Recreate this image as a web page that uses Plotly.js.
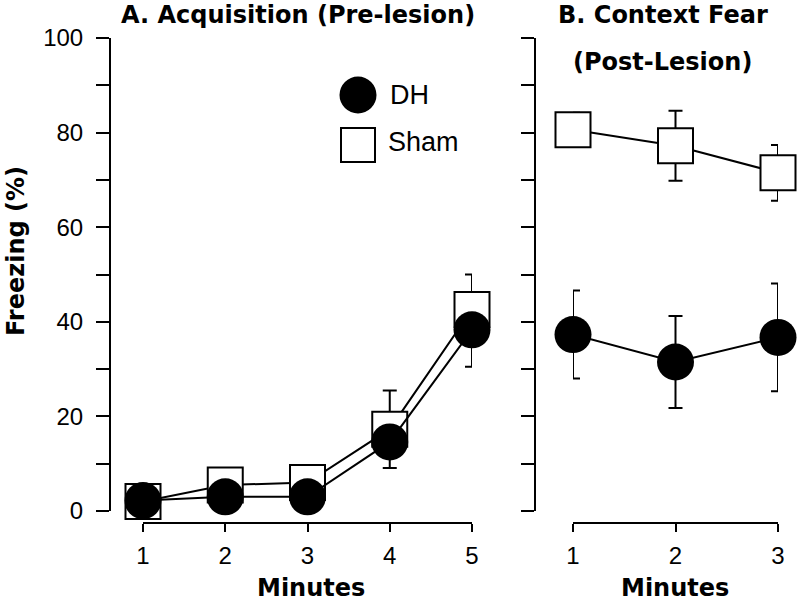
<!DOCTYPE html>
<html>
<head>
<meta charset="utf-8">
<script src="https://cdn.plot.ly/plotly-3.0.1.min.js"></script>
<style>html,body{margin:0;padding:0;background:#fff;}#chart{width:800px;height:601px;}</style>
</head>
<body>
<div id="chart"></div>
<script>
// ---- Data ----
const minutesA = [1, 2, 3, 4, 5];
const dhA = [2.2, 3.0, 3.0, 14.6, 38.3];
const dhAErrMinus = [0, 0, 0, 5.5, 7.8];
const dhAErrPlus = [0, 0, 0, 0, 0];
const shamA = [2.0, 5.5, 6.0, 17.3, 42.6];
const shamAErrPlus = [0, 0, 0, 8.2, 7.4];
const shamAErrMinus = [0, 0, 0, 0, 0];

const minutesB = [1, 2, 3];
const dhB = [37.3, 31.5, 36.7];
const dhBErr = [9.3, 9.7, 11.4];
const shamB = [80.6, 77.2, 71.5];
const shamBErr = [3.6, 7.4, 5.9];

const yTickVals = [0, 10, 20, 30, 40, 50, 60, 70, 80, 90, 100];
const yTickText = ['0', '', '20', '', '40', '', '60', '', '80', '', '100'];
const xTickValsA = [1, 2, 3, 4, 5];
const xTickValsB = [1, 2, 3];

const seriesNames = ['DH', 'Sham'];
const titleA = 'A. Acquisition (Pre-lesion)';
const titleB1 = 'B. Context Fear';
const titleB2 = '(Post-Lesion)';
const xTitle = 'Minutes';
const yTitle = 'Freezing (%)';

// ---- Layout helpers ----
const W = 800, H = 601;
const px = v => v / W;
const py = v => (H - v) / H;

const boldFont = {family: 'DejaVu Sans', size: 24, color: '#000', weight: 700};
const regFont = {family: 'Liberation Sans, Arial, sans-serif', size: 24, color: '#000'};

const errStyle = {color: '#000', thickness: 2, width: 7};

const traces = [
  {
    x: minutesA, y: shamA, xaxis: 'x', yaxis: 'y', type: 'scatter', mode: 'lines+markers',
    name: seriesNames[1], cliponaxis: false,
    line: {color: '#000', width: 2},
    marker: {symbol: 'square', size: 35, color: '#fff', line: {color: '#000', width: 2}},
    error_y: Object.assign({type: 'data', symmetric: false, array: shamAErrPlus, arrayminus: shamAErrMinus}, errStyle)
  },
  {
    x: minutesA, y: dhA, xaxis: 'x', yaxis: 'y', type: 'scatter', mode: 'lines+markers',
    name: seriesNames[0], cliponaxis: false,
    line: {color: '#000', width: 2},
    marker: {symbol: 'circle', size: 37, color: '#000', line: {color: '#000', width: 0}},
    error_y: Object.assign({type: 'data', symmetric: false, array: dhAErrPlus, arrayminus: dhAErrMinus}, errStyle)
  },
  {
    x: minutesB, y: shamB, xaxis: 'x2', yaxis: 'y2', type: 'scatter', mode: 'lines+markers',
    name: seriesNames[1], cliponaxis: false,
    line: {color: '#000', width: 2},
    marker: {symbol: 'square', size: 35, color: '#fff', line: {color: '#000', width: 2}},
    error_y: Object.assign({type: 'data', array: shamBErr}, errStyle)
  },
  {
    x: minutesB, y: dhB, xaxis: 'x2', yaxis: 'y2', type: 'scatter', mode: 'lines+markers',
    name: seriesNames[0], cliponaxis: false,
    line: {color: '#000', width: 2},
    marker: {symbol: 'circle', size: 37, color: '#000', line: {color: '#000', width: 0}},
    error_y: Object.assign({type: 'data', array: dhBErr}, errStyle)
  }
];

const yDomain = [py(511), py(38)];
const xAxisPos = py(523);

const commonX = {
  anchor: 'free', position: xAxisPos, showgrid: false, zeroline: false,
  showline: true, linecolor: '#000', linewidth: 2,
  ticks: 'outside', ticklen: 8, tickwidth: 2, tickcolor: '#000',
  tickfont: regFont, ticklabelstandoff: 3, fixedrange: true
};
const commonY = {
  anchor: 'free', domain: yDomain, range: [0, 100], showgrid: false, zeroline: false,
  showline: true, linecolor: '#000', linewidth: 2,
  ticks: 'outside', ticklen: 13, tickwidth: 2, tickcolor: '#000',
  tickmode: 'array', tickvals: yTickVals, ticktext: yTickText,
  tickfont: regFont, ticklabelstandoff: 8, fixedrange: true
};

const layout = {
  width: W, height: H,
  margin: {l: 0, r: 0, t: 0, b: 0, pad: 0},
  paper_bgcolor: '#fff', plot_bgcolor: 'rgba(0,0,0,0)',
  showlegend: false,
  xaxis: Object.assign({}, commonX, {domain: [px(143), px(472)], range: [1, 5], tickmode: 'array', tickvals: xTickValsA}),
  xaxis2: Object.assign({}, commonX, {domain: [px(573), px(778)], range: [1, 3], tickmode: 'array', tickvals: xTickValsB}),
  yaxis: Object.assign({}, commonY, {position: px(110)}),
  yaxis2: Object.assign({}, commonY, {position: px(535), showticklabels: false}),
  annotations: [
    {text: titleA, xref: 'paper', yref: 'paper', x: px(298), y: py(15), xanchor: 'center', yanchor: 'middle', showarrow: false, font: boldFont},
    {text: titleB1, xref: 'paper', yref: 'paper', x: px(663), y: py(15), xanchor: 'center', yanchor: 'middle', showarrow: false, font: boldFont},
    {text: titleB2, xref: 'paper', yref: 'paper', x: px(662), y: py(62), xanchor: 'center', yanchor: 'middle', showarrow: false, font: boldFont},
    {text: xTitle, xref: 'paper', yref: 'paper', x: px(311), y: py(588), xanchor: 'center', yanchor: 'middle', showarrow: false, font: boldFont},
    {text: xTitle, xref: 'paper', yref: 'paper', x: px(675), y: py(588), xanchor: 'center', yanchor: 'middle', showarrow: false, font: boldFont},
    {text: yTitle, xref: 'paper', yref: 'paper', x: px(16), y: py(251), xanchor: 'center', yanchor: 'middle', textangle: -90, showarrow: false, font: Object.assign({}, boldFont, {size: 24})},
    {text: seriesNames[0], xref: 'paper', yref: 'paper', x: px(388), y: py(95), xanchor: 'left', yanchor: 'middle', showarrow: false, font: Object.assign({}, regFont, {size: 27})},
    {text: seriesNames[1], xref: 'paper', yref: 'paper', x: px(386), y: py(142), xanchor: 'left', yanchor: 'middle', showarrow: false, font: Object.assign({}, regFont, {size: 27})}
  ],
  shapes: [
    {type: 'circle', xref: 'paper', yref: 'paper', xsizemode: 'pixel', ysizemode: 'pixel',
     xanchor: px(358), yanchor: py(95), x0: -18.5, x1: 18.5, y0: -18.5, y1: 18.5,
     fillcolor: '#000', line: {color: '#000', width: 0}},
    {type: 'rect', xref: 'paper', yref: 'paper', xsizemode: 'pixel', ysizemode: 'pixel',
     xanchor: px(358), yanchor: py(145), x0: -17, x1: 17, y0: -17, y1: 17,
     fillcolor: '#fff', line: {color: '#000', width: 2}}
  ]
};

Plotly.newPlot('chart', traces, layout, {staticPlot: true, displayModeBar: false});
</script>
</body>
</html>
